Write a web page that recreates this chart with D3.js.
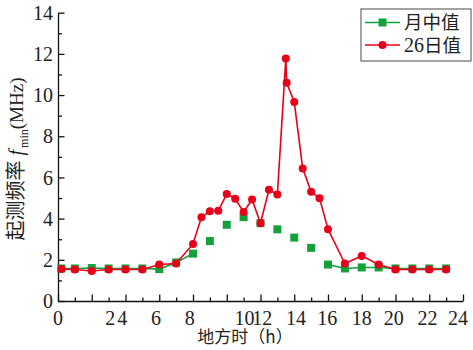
<!DOCTYPE html>
<html><head><meta charset="utf-8">
<script src="https://cdn.jsdelivr.net/npm/d3@7"></script>
<style>body{margin:0;background:#fff}svg{display:block}</style>
</head><body><svg id="c" width="473" height="350"></svg>
<script>
// ---- data ----
const greenHours = [0.2,1,2,3,4,5,6,7,8,9,10,11,12,13,14,15,16,17,18,19,20,21,22,23];
const greenValues = [1.58,1.58,1.6,1.58,1.58,1.58,1.55,1.87,2.3,2.91,3.7,4.07,3.78,3.48,3.08,2.58,1.77,1.58,1.63,1.63,1.58,1.58,1.58,1.58];
const redHours = [0.2,1,2,3,4,5,6,7,8,8.5,9,9.5,10,10.5,11,11.5,12,12.5,13,13.5,13.55,14,14.5,15,15.5,16,17,18,19,20,21,22,23];
const redValues = [1.55,1.53,1.46,1.53,1.53,1.53,1.77,1.82,2.77,4.07,4.36,4.38,5.2,4.96,4.32,4.93,3.78,5.4,5.17,11.77,10.6,9.66,6.44,5.3,4.99,3.48,1.82,2.19,1.77,1.53,1.53,1.53,1.53];
const seriesNames = ["月中值","26日值"];
const yMajorTicks = [0,2,4,6,8,10,12,14];
const yMinorTicks = [1,3,5,7,9,11,13];
const xMajorTicks = [0,2,4,6,8,10,12,14,16,18,20,22,24];
const xMinorTicks = [1,3,5,7,9,11,13,15,17,19,21,23];
const xTickLabels = ["0","2","4","6","8","10","12","14","16","18","20","22","24"];
const xTickLabelAt = [0,3.1,3.8,5.8,7.8,11.05,12.1,14.1,15.95,18,19.9,21.9,23.7];
const xTitle = "地方时（h）";

// ---- layout ----
const svg = d3.select("#c");
const L = 58, R = 463, T = 12.7, B = 301;
const x = d3.scaleLinear().domain([0,24]).range([L,R]);
const y = d3.scaleLinear().domain([0,14]).range([B,T]);
const GREEN = "#14a03a", RED = "#e8001a";
const serif = "'Liberation Serif','Times New Roman',serif";
const cjk = "'Noto Sans CJK SC','Noto Sans CJK JP',sans-serif";

// axes
const gy = svg.append("g").attr("transform",`translate(${L},0)`);
gy.call(d3.axisLeft(y).tickValues(yMajorTicks).tickSizeInner(-6.5).tickSizeOuter(0).tickPadding(5).tickFormat(d3.format("d")));
gy.append("g").call(d3.axisLeft(y).tickValues(yMinorTicks).tickSizeInner(-4).tickSizeOuter(0).tickFormat(""))
  .select(".domain").remove();
const gx = svg.append("g").attr("transform",`translate(0,${B})`);
gx.call(d3.axisBottom(x).tickValues(xMajorTicks).tickSizeInner(-6.5).tickSizeOuter(0).tickFormat(""));
gx.append("g").call(d3.axisBottom(x).tickValues(xMinorTicks).tickSizeInner(-3.5).tickSizeOuter(0).tickFormat(""))
  .select(".domain").remove();
svg.selectAll(".domain, .tick line").attr("stroke","#111").attr("stroke-width",1.3);
gy.selectAll(".tick text").attr("font-family",serif).attr("font-size",20).attr("fill","#222").attr("dy","0.33em");

// x tick labels
svg.append("g").selectAll("text").data(xTickLabels).join("text")
  .attr("x",(d,i)=>x(xTickLabelAt[i])).attr("y",325)
  .attr("text-anchor","middle").attr("font-family",serif).attr("font-size",20).attr("fill","#222")
  .text(d=>d);

// axis titles
svg.append("text").attr("x",245).attr("y",343).attr("text-anchor","middle")
  .attr("font-family",cjk).attr("font-size",17).attr("fill","#222").text(xTitle);
const yt = svg.append("text").attr("transform","translate(23,159) rotate(-90)")
  .attr("text-anchor","middle").attr("fill","#222");
yt.append("tspan").attr("font-family",cjk).attr("font-size",20).text("起测频率");
yt.append("tspan").attr("font-family",serif).attr("font-size",20).attr("font-style","italic").attr("dx",5).text("f");
yt.append("tspan").attr("font-family",serif).attr("font-size",12).attr("dy",5).attr("dx",2).text("min");
yt.append("tspan").attr("font-family",serif).attr("font-size",19).attr("dy",-5).text("(MHz)");

// series
const gData = greenHours.map((h,i)=>({h,v:greenValues[i]}));
const rData = redHours.map((h,i)=>({h,v:redValues[i]}));
const line = d3.line().x(d=>x(d.h)).y(d=>y(d.v));
svg.append("path").datum(gData)
  .attr("d", d3.line().defined(d=>d.h<=8||d.h>=16).x(d=>x(d.h)).y(d=>y(d.v)))
  .attr("fill","none").attr("stroke",GREEN).attr("stroke-width",1.6);
svg.append("g").selectAll("rect").data(gData).join("rect")
  .attr("x",d=>x(d.h)-4).attr("y",d=>y(d.v)-4).attr("width",8).attr("height",8).attr("fill",GREEN);
svg.append("path").datum(rData).attr("d",line)
  .attr("fill","none").attr("stroke",RED).attr("stroke-width",1.6);
svg.append("g").selectAll("circle").data(rData).join("circle")
  .attr("cx",d=>x(d.h)).attr("cy",d=>y(d.v)).attr("r",4).attr("fill",RED);

// legend
const lg = svg.append("g");
lg.append("rect").attr("x",361).attr("y",9).attr("width",110).attr("height",52)
  .attr("fill","#fff").attr("stroke","#666").attr("stroke-width",1.2);
const colors = [GREEN, RED];
seriesNames.forEach((name,i)=>{
  const yy = 22.5 + i*22.5;
  lg.append("line").attr("x1",365).attr("x2",400).attr("y1",yy).attr("y2",yy)
    .attr("stroke",colors[i]).attr("stroke-width",1.6);
  if(i===0) lg.append("rect").attr("x",378.5).attr("y",yy-4).attr("width",8).attr("height",8).attr("fill",colors[i]);
  else lg.append("circle").attr("cx",382.5).attr("cy",yy).attr("r",4).attr("fill",colors[i]);
  const t = lg.append("text").attr("x",404).attr("y",yy+6.5).attr("font-size",18.5).attr("fill","#222");
  if(i===0) t.append("tspan").attr("font-family",cjk).text(name);
  else { t.append("tspan").attr("font-family",serif).attr("font-size",20).text(name.slice(0,2)); t.append("tspan").attr("font-family",cjk).text(name.slice(2)); }
});
</script></body></html>
